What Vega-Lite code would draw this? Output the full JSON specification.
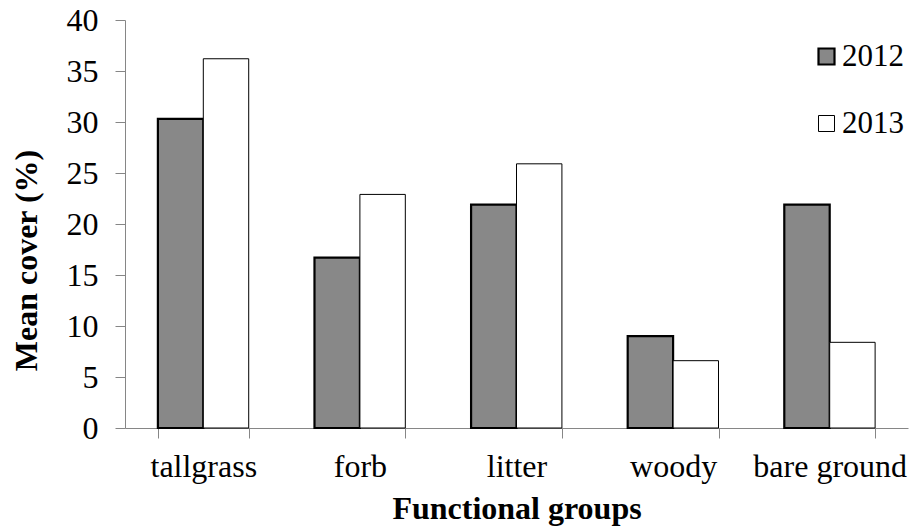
{
  "$schema": "https://vega.github.io/schema/vega-lite/v6.json",
  "width": 783,
  "height": 408,
  "autosize": {"type": "none"},
  "padding": {"left": 125, "top": 20, "right": 3, "bottom": 101},
  "background": "white",
  "data": {
    "values": [
      {"group": "tallgrass", "year": "2012", "cover": 30.3},
      {"group": "tallgrass", "year": "2013", "cover": 36.2},
      {"group": "forb", "year": "2012", "cover": 16.7},
      {"group": "forb", "year": "2013", "cover": 22.9},
      {"group": "litter", "year": "2012", "cover": 21.9},
      {"group": "litter", "year": "2013", "cover": 25.9},
      {"group": "woody", "year": "2012", "cover": 9.0},
      {"group": "woody", "year": "2013", "cover": 6.6},
      {"group": "bare ground", "year": "2012", "cover": 21.9},
      {"group": "bare ground", "year": "2013", "cover": 8.4}
    ]
  },
  "mark": {"type": "bar", "stroke": "black"},
  "encoding": {
    "x": {
      "field": "group",
      "type": "nominal",
      "sort": null,
      "scale": {"paddingInner": 0.42, "paddingOuter": 0.21},
      "axis": {
        "labelAngle": 0,
        "labelFontSize": 32,
        "labelColor": "black",
        "labelPadding": 13,
        "tickSize": 10,
        "tickBand": "extent",
        "tickColor": "#868686",
        "domainColor": "#868686",
        "title": "Functional groups",
        "titleFontSize": 32,
        "titleFontWeight": "bold",
        "titleColor": "black",
        "titleY": 90,
        "titleBaseline": "alphabetic"
      }
    },
    "xOffset": {"field": "year", "type": "nominal", "scale": {"paddingInner": 0, "paddingOuter": 0}},
    "y": {
      "field": "cover",
      "type": "quantitative",
      "scale": {"domain": [0, 40], "nice": false},
      "axis": {
        "values": [0, 5, 10, 15, 20, 25, 30, 35, 40],
        "grid": false,
        "labelFontSize": 32,
        "labelColor": "black",
        "labelPadding": 17,
        "tickSize": 10,
        "tickColor": "#868686",
        "domainColor": "#868686",
        "title": "Mean cover (%)",
        "titleFontSize": 32,
        "titleFontWeight": "bold",
        "titleColor": "black",
        "titleX": -89,
        "titleY": 240,
        "titleBaseline": "alphabetic",
        "titleAlign": "center"
      }
    },
    "fill": {
      "field": "year",
      "type": "nominal",
      "scale": {"domain": ["2012", "2013"], "range": ["#888888", "#ffffff"]},
      "legend": {
        "orient": "none",
        "legendX": 686,
        "legendY": 21,
        "title": null,
        "symbolType": "square",
        "symbolSize": 256,
        "symbolStrokeColor": "black",
        "symbolStrokeWidth": 1.5,
        "labelFontSize": 31,
        "labelColor": "black",
        "labelOffset": 0,
        "rowPadding": 35,
        "padding": 0
      }
    },
    "strokeWidth": {
      "field": "year",
      "type": "nominal",
      "scale": {"domain": ["2012", "2013"], "range": [2.2, 1]},
      "legend": null
    }
  },
  "config": {"view": {"stroke": null}, "font": "Liberation Serif"}
}
